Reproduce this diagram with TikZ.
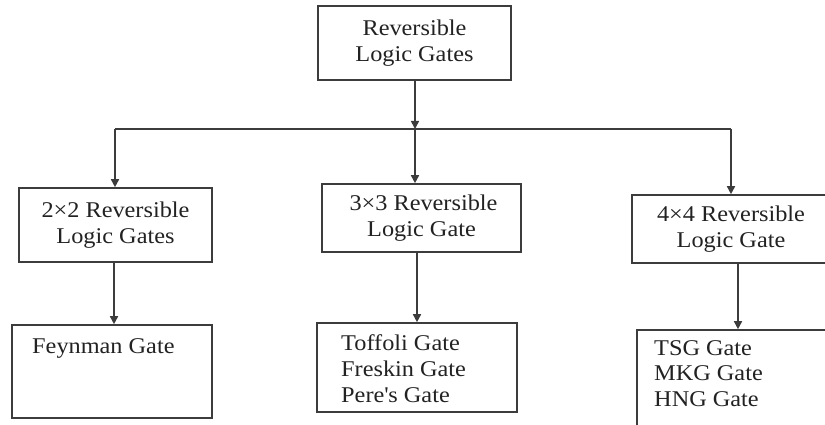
\documentclass[tikz,border=0pt]{standalone}
\usepackage{fontspec}
\setmainfont{Liberation Serif}[FakeStretch=1.08]
\usetikzlibrary{arrows.meta}
\definecolor{linegray}{HTML}{3C3C3C}
\definecolor{textgray}{HTML}{222222}
\tikzset{
  box/.style={draw=linegray, line width=1.6pt, fill=white, text=textgray, align=center, inner sep=0pt,
    font=\fontsize{22.5}{26}\selectfont},
  lbl/.style={text=textgray, align=left, inner sep=0pt, anchor=west,
    font=\fontsize{22.5}{26}\selectfont},
  conn/.style={draw=linegray, line width=1.6pt},
  arr/.style={conn, -{Triangle[width=8pt,length=8pt]}},
}
\begin{document}
\begin{tikzpicture}[x=1pt,y=1pt]
\useasboundingbox (0,0) rectangle (825,425);
\clip (0,0) rectangle (825,425);
% boxes
\node[box, minimum width=193pt, minimum height=74pt] (top) at (414.5,382) {Reversible\\Logic Gates};
\node[box, minimum width=193pt, minimum height=74pt] (A) at (115.5,200) {2×2 Reversible\\Logic Gates};
\node[box, minimum width=199pt, minimum height=68pt] (B) at (421.5,207) {\hspace*{4pt}3×3 Reversible\\Logic Gate};
\node[box, minimum width=198pt, minimum height=68pt] (C) at (731,196) {4×4 Reversible\\Logic Gate};
\node[box, minimum width=200pt, minimum height=93pt] (F) at (112,53.5) {};
\node[box, minimum width=200pt, minimum height=89pt] (T) at (417,57.5) {};
\node[box, minimum width=198pt, minimum height=100pt] (S) at (736,45) {};
% list texts
\node[lbl] (f1) at (32,77) {Feynman Gate};
\node[lbl] (t1) at (341,82) {Toffoli Gate};
\node[lbl] (t2) at (341,56) {Freskin Gate};
\node[lbl] (t3) at (341,30) {Pere\textquotesingle s Gate};
\node[lbl] (s1) at (654,77) {TSG Gate};
\node[lbl] (s2) at (654,52) {MKG Gate};
\node[lbl] (s3) at (654,26) {HNG Gate};
% connectors
\coordinate (hub) at (415,296);
\coordinate (hl) at (115,296);
\coordinate (hr) at (731,296);
\draw[arr] (top.south -| hub) -- (hub);
\draw[conn] (hl) -- (hr);
\draw[arr] (hl) -- (hl |- A.north);
\draw[arr] (hub) -- (hub |- B.north);
\draw[arr] (hr) -- (hr |- C.north);
\coordinate (a2) at (114,0);
\coordinate (b2) at (417,0);
\coordinate (c2) at (738,0);
\draw[arr] (a2 |- A.south) -- (a2 |- F.north);
\draw[arr] (b2 |- B.south) -- (b2 |- T.north);
\draw[arr] (c2 |- C.south) -- (c2 |- S.north);
\end{tikzpicture}
\end{document}
